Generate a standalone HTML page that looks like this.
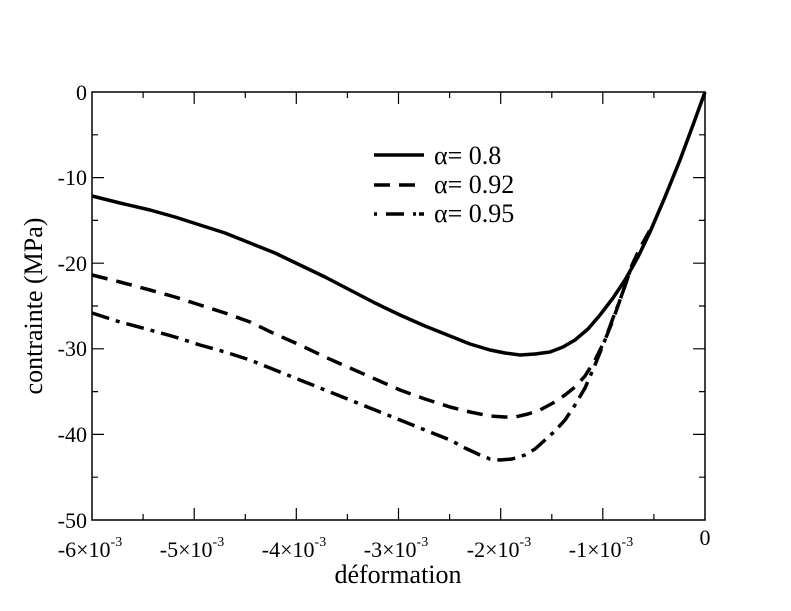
<!DOCTYPE html><html><head><style>body{margin:0;background:#fff}svg{display:block}text{font-family:"Liberation Serif",serif;fill:#000}</style></head><body>
<svg width="791" height="611" viewBox="0 0 791 611" xmlns="http://www.w3.org/2000/svg">
<rect x="92" y="92" width="613" height="428" fill="none" stroke="#000" stroke-width="1.5"/>
<g stroke="#000" stroke-width="1.2">
<path d="M194.2 520v-12M296.3 520v-12M398.5 520v-12M500.7 520v-12M602.8 520v-12M143.1 520v-6M245.3 520v-6M347.4 520v-6M449.6 520v-6M551.8 520v-6M653.9 520v-6
M194.2 92v12M296.3 92v12M398.5 92v12M500.7 92v12M602.8 92v12M143.1 92v6M245.3 92v6M347.4 92v6M449.6 92v6M551.8 92v6M653.9 92v6
M92 177.6h12M92 263.2h12M92 348.8h12M92 434.4h12M92 134.8h6M92 220.4h6M92 306h6M92 391.6h6M92 477.2h6
M705 177.6h-12M705 263.2h-12M705 348.8h-12M705 434.4h-12M705 134.8h-6M705 220.4h-6M705 306h-6M705 391.6h-6M705 477.2h-6"/>
</g>
<g font-size="22" text-anchor="end">
<text x="87" y="100">0</text><text x="87" y="185">-10</text><text x="87" y="271">-20</text><text x="87" y="356">-30</text><text x="87" y="442">-40</text><text x="87" y="528">-50</text>
</g>
<g font-size="22" text-anchor="middle">
<text x="90" y="557">-6×10<tspan font-size="14" dy="-11">-3</tspan></text>
<text x="192" y="557">-5×10<tspan font-size="14" dy="-11">-3</tspan></text>
<text x="294" y="557">-4×10<tspan font-size="14" dy="-11">-3</tspan></text>
<text x="396" y="557">-3×10<tspan font-size="14" dy="-11">-3</tspan></text>
<text x="499" y="557">-2×10<tspan font-size="14" dy="-11">-3</tspan></text>
<text x="601" y="557">-1×10<tspan font-size="14" dy="-11">-3</tspan></text>
<text x="705" y="545">0</text>
<text x="398" y="583" font-size="26">déformation</text>
<text transform="translate(42,306) rotate(-90)" font-size="26">contrainte (MPa)</text>
</g>
<g fill="none" stroke="#000" stroke-width="3.5" stroke-linejoin="round">
<polyline points="92,196 120,203 150,210 175,217 200,225 225,233 250,243 275,253 300,265 325,277 350,290 375,303 400,315 425,326 450,336 470,344 490,350 505,353 520,355 535,354 550,352 563,347 575,340 588,329 600,315 613,298 625,280 638,257 650,232 665,197 680,160 693,125 705,92"/>
<polyline stroke-dasharray="16,9" points="92,275 120,282 150,290 175,297 200,305 225,313 250,322 275,334 300,345 325,357 350,368 375,379 400,390 425,399 450,407 470,412 490,416 505,417 515,417 528,414 540,410 553,403 565,395 575,387 585,376 595,360 605,340 613,320 620,300 627,280 632,265 640,248 650,230"/>
<polyline stroke-dasharray="18,7,4,7" points="92,313 120,322 150,330 175,337 200,345 225,352 250,360 275,370 300,380 325,390 350,400 375,410 400,420 425,430 450,440 465,448 480,455 490,459 500,460 512,459 525,455 535,449 545,440 555,431 565,420 575,405 585,388 595,365 605,340 613,318 620,300 627,280 632,265"/>
<line x1="374" y1="155" x2="424" y2="155"/>
<line x1="374" y1="185" x2="424" y2="185" stroke-dasharray="16,9"/>
<line x1="374" y1="214" x2="424" y2="214" stroke-dasharray="3,9,18,9,3"/>
</g>
<g font-size="26"><text x="434" y="164">α= 0.8</text><text x="434" y="193">α= 0.92</text><text x="434" y="222">α= 0.95</text></g>
</svg></body></html>
